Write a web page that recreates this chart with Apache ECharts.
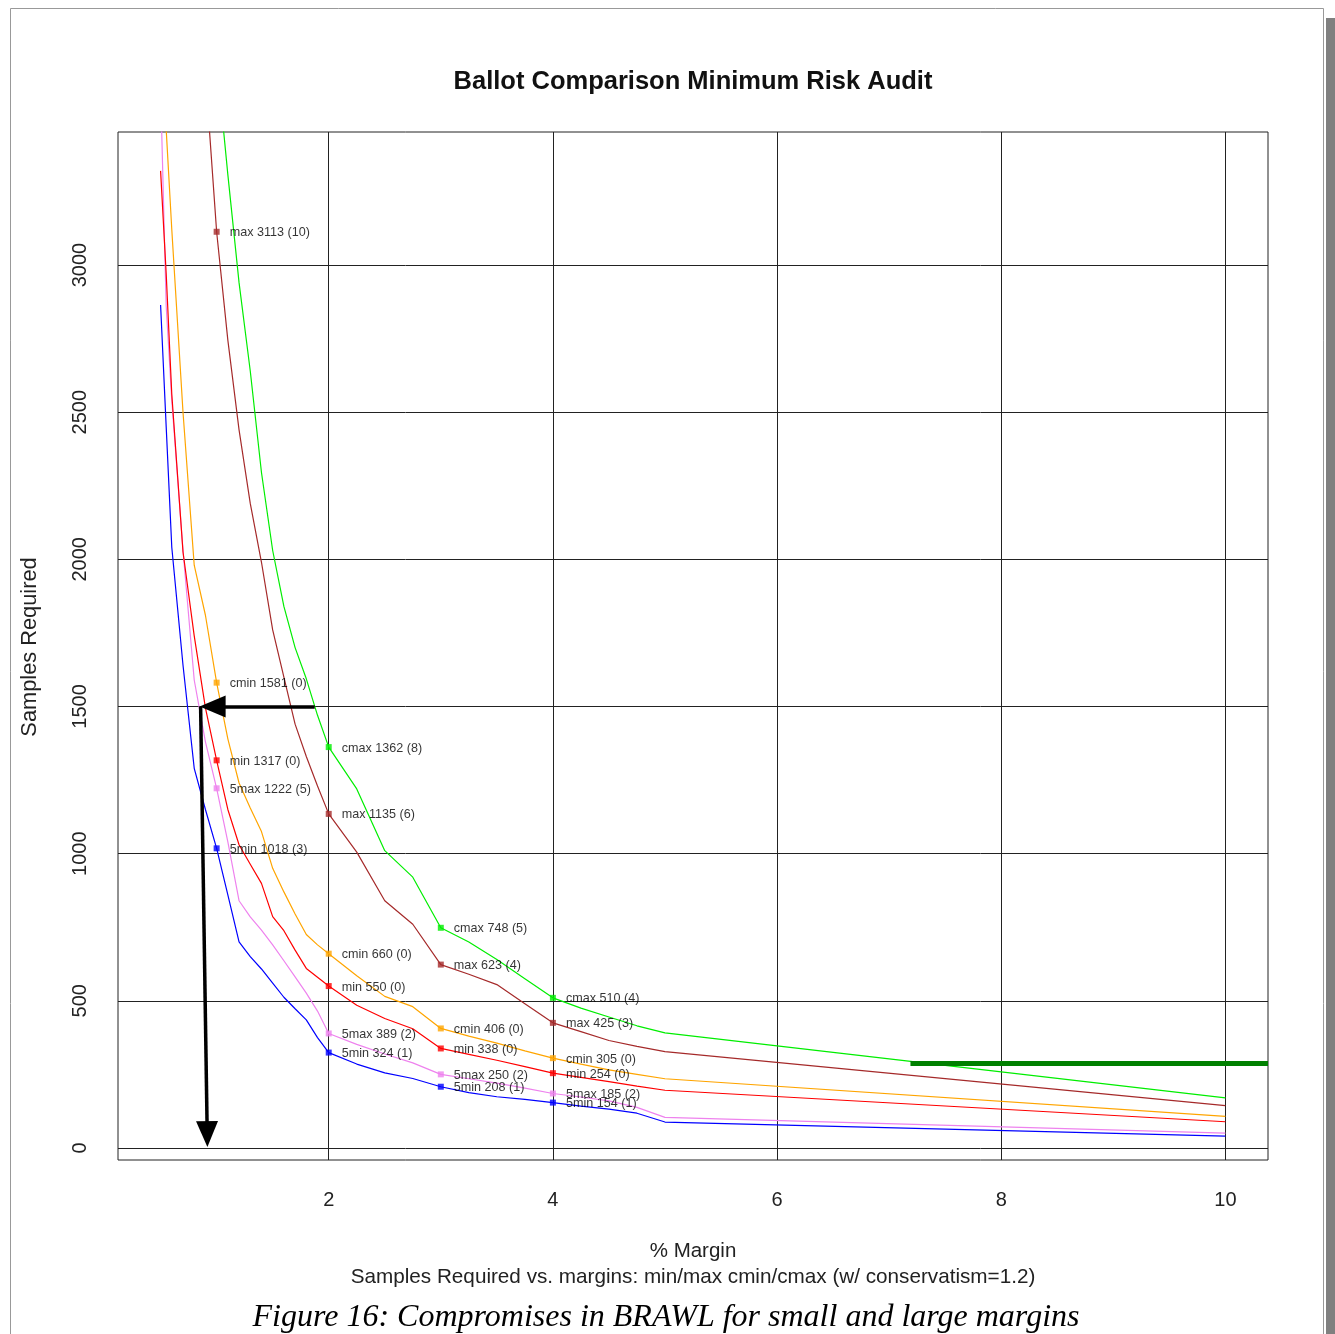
<!DOCTYPE html>
<html><head><meta charset="utf-8">
<script src="https://cdn.jsdelivr.net/npm/echarts@6/dist/echarts.min.js"></script>
<style>html,body{margin:0;padding:0;background:#fff}#c{width:1335px;height:1334px}</style>
</head><body><div id="c"></div>
<script>
// ---- data ----
const margins = [0.5,0.55,0.6,0.7,0.8,0.9,1.0,1.1,1.2,1.3,1.4,1.5,1.6,1.7,1.8,1.9,2.0,2.25,2.5,2.75,3.0,3.25,3.5,3.75,4.0,4.25,4.5,4.75,5.0,10];
const s5min = [2864,2450,2040,1640,1290,1150,1018,860,700,650,608,560,512,473,435,375,324,285,255,236,208,188,174,165,154,142,132,118,88,40];
const s5max = [3600,2860,2540,2030,1590,1380,1222,1040,840,785,740,690,636,581,526,465,389,352,319,289,250,235,220,203,185,173,160,138,104,50];
const sMin  = [3320,2970,2560,2025,1740,1495,1317,1150,1030,964,899,786,738,672,610,580,550,485,440,405,338,318,298,276,254,240,225,210,196,89];
const sCmin = [3900,3460,3120,2500,1980,1810,1581,1390,1240,1155,1075,950,870,795,725,690,660,585,515,480,406,380,356,330,305,285,265,250,235,107];
const sMax  = [10000,9000,8000,6000,4600,3650,3113,2745,2440,2190,1990,1760,1600,1440,1330,1230,1135,1005,840,760,623,590,555,490,425,395,365,345,327,144];
const sCmax = [13000,11500,10000,7500,6000,4500,3700,3307,2940,2640,2295,2030,1840,1700,1594,1470,1362,1220,1010,920,748,700,640,575,510,475,445,415,391,170];

const labelX   = [1,2,3,4];
const lab5min  = [1018,324,208,154],  err5min  = [3,1,1,1];
const lab5max  = [1222,389,250,185],  err5max  = [5,2,2,2];
const labMin   = [1317,550,338,254],  errMin   = [0,0,0,0];
const labCmin  = [1581,660,406,305],  errCmin  = [0,0,0,0];
const labMax   = [3113,1135,623,425], errMax   = [10,6,4,3];
const labCmax  = [null,1362,748,510], errCmax  = [null,8,5,4];

const xTicks = [2,4,6,8,10];
const yTicks = [0,500,1000,1500,2000,2500,3000];

// annotations
const thickLine = [[7.19,287],[10.38,287]];
const arrowH = [[1.875,1500],[0.964,1500]];
const arrowV = [[0.857,1500],[0.916,47]];

// ---- chart ----
const FONT = 'Liberation Sans, Arial, sans-serif';
const defs = [
  {name:'5min', vals:s5min, lab:lab5min, err:err5min, color:'#0000ff'},
  {name:'5max', vals:s5max, lab:lab5max, err:err5max, color:'#ee82ee'},
  {name:'min',  vals:sMin,  lab:labMin,  err:errMin,  color:'#ff0000'},
  {name:'cmin', vals:sCmin, lab:labCmin, err:errCmin, color:'#ffa500'},
  {name:'max',  vals:sMax,  lab:labMax,  err:errMax,  color:'#a52a2a'},
  {name:'cmax', vals:sCmax, lab:labCmax, err:errCmax, color:'#00ee00'}
];

const series = [];
defs.forEach(d => {
  series.push({
    type:'line', name:d.name, showSymbol:false, clip:true, silent:true,
    data: margins.map((m,i)=>[m,d.vals[i]]),
    lineStyle:{color:d.color,width:1.2}, itemStyle:{color:d.color}, z:2
  });
  const pts = [];
  labelX.forEach((x,i)=>{
    if (d.lab[i]==null) return;
    pts.push({value:[x,d.lab[i]], name: d.name+' '+d.lab[i]+' ('+d.err[i]+')'});
  });
  series.push({
    type:'scatter', name:d.name+'_pts', symbol:'rect', symbolSize:6, silent:true,
    itemStyle:{color:d.color}, data:pts, z:3,
    label:{show:true, position:'right', distance:10, offset:[0,1], formatter:p=>p.name,
      fontSize:12.6, fontFamily:FONT, color:'#000'}
  });
});
series.push({
  type:'line', name:'thick', showSymbol:false, silent:true, data:thickLine,
  lineStyle:{color:'#008000', width:5}, z:4
});
series.push({
  type:'line', name:'arrows', data:[], silent:true,
  markLine:{
    silent:true, animation:false, symbol:['none','triangle'], symbolSize:[22,26],
    label:{show:false},
    lineStyle:{color:'#000', width:3.5, type:'solid'},
    itemStyle:{color:'#000'},
    data:[
      [{coord:arrowH[0]},{coord:arrowH[1]}],
      [{coord:arrowV[0]},{coord:arrowV[1]}]
    ]
  }, z:5
});

const chart = echarts.init(document.getElementById('c'), null, {renderer:'canvas'});
chart.setOption({
  animation:false,
  backgroundColor:'#fff',
  grid:{left:118, top:132, right:67, bottom:174, show:true, borderColor:'#222', borderWidth:1, containLabel:false},
  xAxis:{type:'value', min:0.12, max:10.38,
    axisLine:{show:false}, axisTick:{show:false, customValues:xTicks},
    axisLabel:{customValues:xTicks, fontSize:20, fontFamily:FONT, color:'#222', margin:30, formatter:v=>String(v)},
    splitLine:{show:true, lineStyle:{color:'#222', width:1}}
  },
  yAxis:{type:'value', min:-41, max:3452,
    axisLine:{show:false}, axisTick:{show:false, customValues:yTicks},
    axisLabel:{customValues:yTicks, rotate:90, fontSize:20, fontFamily:FONT, color:'#222', margin:28, formatter:v=>String(v)},
    splitLine:{show:true, lineStyle:{color:'#222', width:1}}
  },
  series:series,
  graphic:[
    {type:'rect', shape:{x:10.5,y:8.5,width:1313,height:1340}, style:{fill:'none', stroke:'#999', lineWidth:1}, silent:true},
    {type:'rect', shape:{x:1326,y:18,width:9,height:1316}, style:{fill:'#808080'}, silent:true},
    {type:'text', x:693, y:82, style:{text:'Ballot Comparison Minimum Risk Audit', font:'bold 25.5px '+FONT, fill:'#111', textAlign:'center', textVerticalAlign:'middle'}},
    {type:'text', x:30, y:647, rotation:Math.PI/2, style:{text:'Samples Required', font:'21.8px '+FONT, fill:'#222', textAlign:'center', textVerticalAlign:'middle'}},
    {type:'text', x:693, y:1251, style:{text:'% Margin', font:'20.5px '+FONT, fill:'#222', textAlign:'center', textVerticalAlign:'middle'}},
    {type:'text', x:693, y:1277, style:{text:'Samples Required vs. margins: min/max cmin/cmax (w/ conservatism=1.2)', font:'20.7px '+FONT, fill:'#222', textAlign:'center', textVerticalAlign:'middle'}},
    {type:'text', x:666, y:1318, style:{text:'Figure 16: Compromises in BRAWL for small and large margins', font:'italic 32px Liberation Serif, serif', fill:'#000', textAlign:'center', textVerticalAlign:'middle'}}
  ]
});
</script></body></html>
